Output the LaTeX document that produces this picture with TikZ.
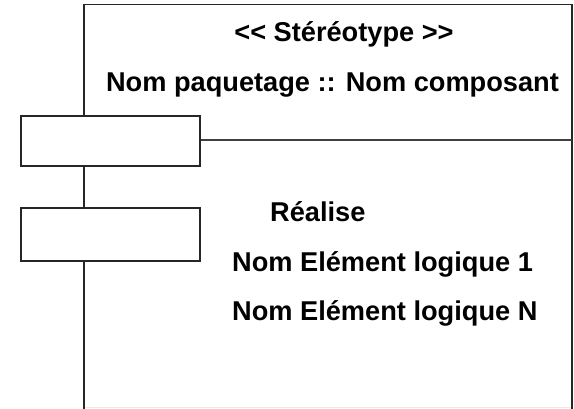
\documentclass[tikz,border=0pt]{standalone}
\usepackage{fontspec}
\setmainfont{Liberation Sans}
\begin{document}
\begin{tikzpicture}[x=1pt,y=-1pt,
  frame/.style={draw=black!85,line width=1.6pt},
  port/.style={draw=black!85,line width=1.6pt,fill=white},
  lbl/.style={font=\fontsize{27.2}{30}\selectfont\bfseries,inner sep=0pt,anchor=base},
  lbll/.style={lbl,anchor=base west}]
\useasboundingbox (0,0) rectangle (574,409);
% main component frame
\coordinate (tl) at (84,4.5);
\coordinate (tr) at (572,4.5);
\coordinate (bl) at (84,409);
\coordinate (br) at (572,409);
\draw[frame] (bl) -- (tl) -- (tr) -- (br);
\draw[draw=black!8,line width=1pt] (85,407.5) -- (571,407.5);
% divider
\coordinate (dl) at (200,140);
\coordinate (dr) at (572,140);
\draw[draw=black!75,line width=1.6pt] (dl) -- (dr);
% ports
\draw[port] (21,116) rectangle (200,166);
\draw[port] (21,208) rectangle (200,261);
% texts
\node[lbl] (st) at (344,42) {<\kern0pt< Stéréotype >\kern0pt>};
\node[lbl] (nm) at (332.5,91.7) {Nom paquetage :: Nom composant};
\node[lbll] (re) at (270,221.5) {Réalise};
\node[lbll] (e1) at (232,272) {Nom Elément logique 1};
\node[lbll] (en) at (232,320) {Nom Elément logique N};
\end{tikzpicture}
\end{document}
